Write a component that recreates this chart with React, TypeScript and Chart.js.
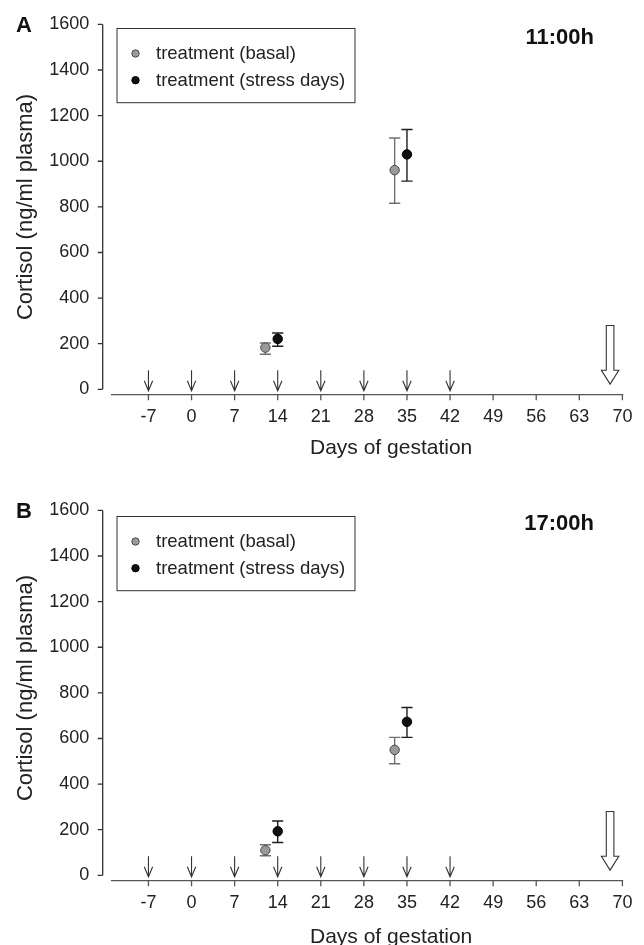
import React, { useEffect, useRef } from 'react';
import { Chart, registerables } from 'chart.js';

Chart.register(...registerables);

// ---- data ----
const xTickValues = [-7, 0, 7, 14, 21, 28, 35, 42, 49, 56, 63, 70];
const yTickValues = [0, 200, 400, 600, 800, 1000, 1200, 1400, 1600];
const stressArrowDays = [-7, 0, 7, 14, 21, 28, 35, 42];
const birthArrowDay = 68;

const basalDays = [12, 33];
const stressDays = [14, 35];

// Panel A (11:00h)
const basalMeanA = [183, 961];
const basalLowA = [154, 816];
const basalHighA = [203, 1102];
const stressMeanA = [221, 1030];
const stressLowA = [189, 913];
const stressHighA = [247, 1139];

// Panel B (17:00h)
const basalMeanB = [110, 550];
const basalLowB = [86, 489];
const basalHighB = [134, 605];
const stressMeanB = [193, 673];
const stressLowB = [144, 605];
const stressHighB = [238, 736];

const legendLabels = ['treatment (basal)', 'treatment (stress days)'];
const xTitle = 'Days of gestation';
const yTitle = 'Cortisol (ng/ml plasma)';

const FONT = "'Liberation Sans', Arial, Helvetica, sans-serif";
const INK = '#222222';

type Series = { days: number[]; mean: number[]; low: number[]; high: number[] };
type PanelCfg = {
  letter: string;
  time: string;
  basal: Series;
  stress: Series;
  legendTop: number;
  yTitleY: number;
  xTitleBase: number;
};

const panels: PanelCfg[] = [
  {
    letter: 'A',
    time: '11:00h',
    basal: { days: basalDays, mean: basalMeanA, low: basalLowA, high: basalHighA },
    stress: { days: stressDays, mean: stressMeanA, low: stressLowA, high: stressHighA },
    legendTop: 28.5,
    yTitleY: 207,
    xTitleBase: 454,
  },
  {
    letter: 'B',
    time: '17:00h',
    basal: { days: basalDays, mean: basalMeanB, low: basalLowB, high: basalHighB },
    stress: { days: stressDays, mean: stressMeanB, low: stressLowB, high: stressHighB },
    legendTop: 30.5,
    yTitleY: 202,
    xTitleBase: 456.5,
  },
];

function CortisolPanel({ cfg }: { cfg: PanelCfg }) {
  const ref = useRef<HTMLCanvasElement>(null);

  useEffect(() => {
    if (!ref.current) return;

    const decor = {
      id: 'decor',
      beforeDatasetsDraw(chart: any) {
        const { ctx } = chart;
        const xs = chart.scales.x;
        const ys = chart.scales.y;
        const bars = (s: Series, color: string) => {
          ctx.save();
          ctx.strokeStyle = color;
          ctx.lineWidth = 1.4;
          for (let i = 0; i < s.days.length; i++) {
            const x = xs.getPixelForValue(s.days[i]);
            const yl = ys.getPixelForValue(s.low[i]);
            const yh = ys.getPixelForValue(s.high[i]);
            ctx.beginPath();
            ctx.moveTo(x, yl);
            ctx.lineTo(x, yh);
            ctx.moveTo(x - 5.6, yl);
            ctx.lineTo(x + 5.6, yl);
            ctx.moveTo(x - 5.6, yh);
            ctx.lineTo(x + 5.6, yh);
            ctx.stroke();
          }
          ctx.restore();
        };
        bars(cfg.basal, '#707070');
        bars(cfg.stress, '#1e1e1e');
      },
      afterDraw(chart: any) {
        const { ctx, chartArea } = chart;
        const xs = chart.scales.x;
        const ys = chart.scales.y;
        ctx.save();

        // y axis line + ticks
        const yAxisX = chartArea.left - 0.2;
        ctx.strokeStyle = '#333333';
        ctx.lineWidth = 1.3;
        ctx.beginPath();
        ctx.moveTo(yAxisX, ys.getPixelForValue(yTickValues[yTickValues.length - 1]));
        ctx.lineTo(yAxisX, ys.getPixelForValue(yTickValues[0]));
        for (const v of yTickValues) {
          const y = ys.getPixelForValue(v);
          ctx.moveTo(yAxisX - 5, y);
          ctx.lineTo(yAxisX, y);
        }
        ctx.stroke();

        // x axis line + ticks
        const xAxisY = chartArea.bottom;
        ctx.strokeStyle = '#555555';
        ctx.beginPath();
        ctx.moveTo(xs.getPixelForValue(-13.1), xAxisY);
        ctx.lineTo(xs.getPixelForValue(70) + 0.8, xAxisY);
        for (const v of xTickValues) {
          const x = xs.getPixelForValue(v);
          ctx.moveTo(x, xAxisY);
          ctx.lineTo(x, xAxisY + 5.5);
        }
        ctx.stroke();

        // stress-day arrows
        ctx.strokeStyle = '#333333';
        ctx.lineWidth = 1.1;
        for (const d of stressArrowDays) {
          const x = xs.getPixelForValue(d);
          const yTop = ys.getPixelForValue(84);
          const yTip = ys.getPixelForValue(-6);
          ctx.beginPath();
          ctx.moveTo(x, yTop);
          ctx.lineTo(x, yTip);
          ctx.moveTo(x - 4.2, yTip - 10);
          ctx.lineTo(x, yTip);
          ctx.lineTo(x + 4.2, yTip - 10);
          ctx.stroke();
        }

        // birth arrow (hollow)
        {
          const x = xs.getPixelForValue(birthArrowDay);
          const yTop = ys.getPixelForValue(280);
          const yNeck = ys.getPixelForValue(84);
          const yTip = ys.getPixelForValue(23);
          ctx.beginPath();
          ctx.moveTo(x - 3.8, yTop);
          ctx.lineTo(x + 3.8, yTop);
          ctx.lineTo(x + 3.8, yNeck);
          ctx.lineTo(x + 8.7, yNeck);
          ctx.lineTo(x, yTip);
          ctx.lineTo(x - 8.7, yNeck);
          ctx.lineTo(x - 3.8, yNeck);
          ctx.closePath();
          ctx.fillStyle = '#ffffff';
          ctx.fill();
          ctx.strokeStyle = '#333333';
          ctx.lineWidth = 1.1;
          ctx.stroke();
        }

        // legend
        const lt = cfg.legendTop;
        ctx.strokeStyle = '#333333';
        ctx.lineWidth = 1;
        ctx.strokeRect(117, lt, 238, 74.2);
        const rows = [lt + 25, lt + 51.7];
        const fills = ['#9a9a9a', '#111111'];
        const strokes = ['#4a4a4a', '#000000'];
        ctx.font = `18.5px ${FONT}`;
        ctx.textBaseline = 'middle';
        ctx.textAlign = 'left';
        for (let i = 0; i < 2; i++) {
          ctx.beginPath();
          ctx.arc(135.5, rows[i], 3.7, 0, Math.PI * 2);
          ctx.fillStyle = fills[i];
          ctx.fill();
          ctx.strokeStyle = strokes[i];
          ctx.lineWidth = 1;
          ctx.stroke();
          ctx.fillStyle = INK;
          ctx.fillText(legendLabels[i], 156, rows[i] + 0.5);
        }

        // panel letter and time label
        ctx.fillStyle = '#111111';
        ctx.textBaseline = 'alphabetic';
        ctx.font = `bold 22px ${FONT}`;
        ctx.textAlign = 'left';
        ctx.fillText(cfg.letter, 16, 32);
        ctx.textAlign = 'right';
        ctx.fillText(cfg.time, 594, 44);

        // axis titles
        ctx.fillStyle = INK;
        ctx.font = `21px ${FONT}`;
        ctx.textAlign = 'left';
        ctx.fillText(xTitle, 310, cfg.xTitleBase);

        ctx.save();
        ctx.translate(25.8, cfg.yTitleY);
        ctx.rotate(-Math.PI / 2);
        ctx.font = `22px ${FONT}`;
        ctx.textAlign = 'center';
        ctx.textBaseline = 'middle';
        ctx.fillText(yTitle, 0, 0);
        ctx.restore();

        ctx.restore();
      },
    };

    const chart = new Chart(ref.current, {
      type: 'scatter',
      data: {
        datasets: [
          {
            label: legendLabels[0],
            data: cfg.basal.days.map((d, i) => ({ x: d, y: cfg.basal.mean[i] })),
            pointRadius: 4.7,
            backgroundColor: '#9a9a9a',
            borderColor: '#4a4a4a',
            borderWidth: 1,
          },
          {
            label: legendLabels[1],
            data: cfg.stress.days.map((d, i) => ({ x: d, y: cfg.stress.mean[i] })),
            pointRadius: 4.7,
            backgroundColor: '#111111',
            borderColor: '#000000',
            borderWidth: 1,
          },
        ],
      },
      options: {
        responsive: false,
        animation: false,
        devicePixelRatio: 1,
        layout: { padding: { left: 0, right: 21.6, top: 22.5, bottom: 0 } },
        plugins: {
          legend: { display: false },
          tooltip: { enabled: false },
          title: { display: false },
        },
        scales: {
          x: {
            type: 'linear',
            min: -14.4,
            max: 70,
            afterBuildTicks: (s: any) => {
              s.ticks = xTickValues.map((v) => ({ value: v }));
            },
            afterFit: (s: any) => {
              s.height = 91.3;
            },
            grid: { display: false, drawTicks: false },
            border: { display: false },
            ticks: {
              font: { family: FONT, size: 18 },
              color: INK,
              padding: 11.2,
              maxRotation: 0,
              autoSkip: false,
              callback: (v: any) => String(v),
            },
          },
          y: {
            type: 'linear',
            min: -23.5,
            max: 1600,
            afterBuildTicks: (s: any) => {
              s.ticks = yTickValues.map((v) => ({ value: v }));
            },
            afterFit: (s: any) => {
              s.width = 102.9;
            },
            grid: { display: false, drawTicks: false },
            border: { display: false },
            ticks: {
              font: { family: FONT, size: 18 },
              color: INK,
              padding: 13.6,
              autoSkip: false,
              callback: (v: any) => String(v),
            },
          },
        },
      },
      plugins: [decor],
    } as any);

    return () => chart.destroy();
  }, [cfg]);

  return <canvas ref={ref} width={644} height={486} style={{ display: 'block' }} />;
}

export default function App() {
  return (
    <div
      style={{
        position: 'absolute',
        left: 0,
        top: 0,
        width: 644,
        height: 945,
        overflow: 'hidden',
        background: '#ffffff',
      }}
    >
      <div style={{ position: 'absolute', left: 0, top: 0 }}>
        <CortisolPanel cfg={panels[0]} />
      </div>
      <div style={{ position: 'absolute', left: 0, top: 486 }}>
        <CortisolPanel cfg={panels[1]} />
      </div>
    </div>
  );
}
